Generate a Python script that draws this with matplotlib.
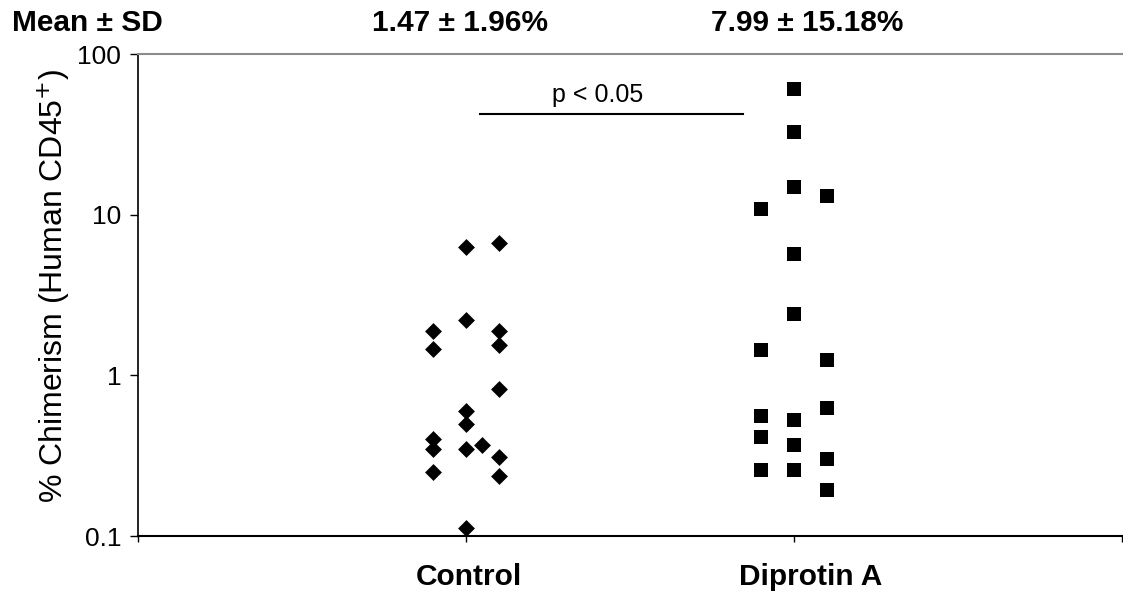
import numpy as np
import matplotlib
matplotlib.use("Agg")
import matplotlib.pyplot as plt
from matplotlib.ticker import FixedLocator, NullLocator

plt.rcParams['font.family'] = ['Liberation Sans', 'DejaVu Sans']

# chimerism values (% human CD45+), one entry per animal, grouped by column
groups = ['Control', 'Diprotin A']
control_x = [0.9, 0.9, 0.9, 0.9, 0.9,
             1.0, 1.0, 1.0, 1.0, 1.0, 1.0,
             1.05,
             1.1, 1.1, 1.1, 1.1, 1.1, 1.1]
control_y = [1.88, 1.45, 0.403, 0.349, 0.25,
             6.3, 2.2, 0.60, 0.495, 0.349, 0.1125,
             0.366,
             6.67, 1.88, 1.54, 0.818, 0.31, 0.236]
diprotin_x = [1.9, 1.9, 1.9, 1.9, 1.9,
              2.0, 2.0, 2.0, 2.0, 2.0, 2.0, 2.0, 2.0,
              2.1, 2.1, 2.1, 2.1, 2.1]
diprotin_y = [10.8, 1.445, 0.555, 0.413, 0.258,
              60.3, 32.5, 14.8, 5.67, 2.40, 0.530, 0.370, 0.258,
              13.1, 1.25, 0.625, 0.303, 0.194]
mean_sd = ['1.47 \u00b1 1.96%', '7.99 \u00b1 15.18%']
y_ticks = [0.1, 1, 10, 100]
y_ticklabels = ['0.1', '1', '10', '100']

W, H = 1123, 603
fig = plt.figure(figsize=(W / 100, H / 100), dpi=100)
ax = fig.add_axes([138 / W, 1 - 536 / H, 984 / W, 482 / H])

ax.scatter(control_x, control_y, marker='D', s=8.6 ** 2, c='black', linewidths=0, zorder=3)
ax.scatter(diprotin_x, diprotin_y, marker='s', s=9.4 ** 2, c='black', linewidths=0, zorder=3)

ax.set_yscale('log')
ax.set_ylim(0.1, 100)
ax.set_xlim(0, 3)
ax.yaxis.set_major_locator(FixedLocator(y_ticks))
ax.yaxis.set_minor_locator(NullLocator())
ax.set_yticklabels(y_ticklabels, fontsize=19)
ax.set_xticks([0, 1, 2, 3])
ax.set_xticklabels([])
ax.tick_params(axis='y', length=6, width=1, pad=6, direction='out')
ax.tick_params(axis='x', length=4, width=1, direction='out')

ax.spines['right'].set_visible(False)
ax.spines['top'].set_color('#8c8c8c')
ax.spines['top'].set_linewidth(1.5)
ax.spines['left'].set_linewidth(1.2)
ax.spines['bottom'].set_linewidth(1.5)

ax.set_ylabel('% Chimerism (Human CD45$^{+}$)', fontsize=23)
ax.yaxis.set_label_coords(-0.067, 0.52)

# category names under the axis
for xpos, name in zip([1.01, 2.05], groups):
    ax.text(xpos, -0.085, name, transform=ax.get_xaxis_transform(),
            ha='center', va='center', fontsize=21.5, fontweight='bold')

# significance bar
ax.plot([1.043, 1.845], [42.5, 42.5], color='black', lw=1.5)
ax.text(1.40, 47, 'p < 0.05', ha='center', va='bottom', fontsize=18)

# mean +/- SD header
fig.text(11.7 / W, 1 - 23 / H, 'Mean \u00b1 SD', ha='left', va='center',
         fontsize=21.5, fontweight='bold')
for xc, s in zip([459.7, 807], mean_sd):
    fig.text(xc / W, 1 - 23 / H, s, ha='center', va='center',
             fontsize=21.5, fontweight='bold')

fig.savefig('out.png', dpi=100)
